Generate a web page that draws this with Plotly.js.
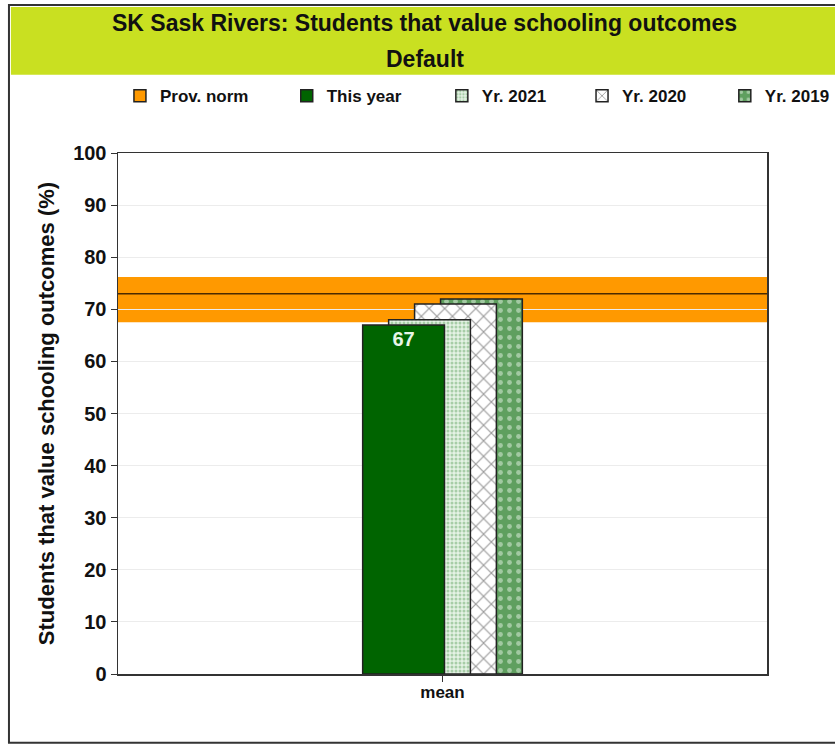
<!DOCTYPE html>
<html>
<head>
<meta charset="utf-8">
<script src="https://cdn.plot.ly/plotly-3.0.1.min.js"></script>
<style>html,body{margin:0;padding:0;background:#fff;}#chart{width:835px;height:745px;}</style>
</head>
<body>
<div id="chart"></div>
<script>
const titleLines = ["SK Sask Rivers: Students that value schooling outcomes", "Default"];
const categories = ["mean"];
const seriesNames = ["This year", "Yr. 2021", "Yr. 2020", "Yr. 2019"];
const thisYear = [67];
const yr2021 = [68];
const yr2020 = [71];
const yr2019 = [72];
const normName = "Prov. norm";
const provNorm = [73];
const provNormLow = [67.5];
const provNormHigh = [76.2];
const yTitle = "Students that value schooling outcomes (%)";
const yTicks = [0,10,20,30,40,50,60,70,80,90,100];

const F = "Liberation Sans, Arial, sans-serif";
const barW = 0.126;
const lineStyle = {color: "#222", width: 1.5};

const traces = [
  {type: "bar", name: seriesNames[3], x: categories, y: yr2019, offset: -0.003, width: barW,
   legend: "legend5",
   marker: {color: "#7dba7d", line: lineStyle,
            pattern: {shape: ".", bgcolor: "#5f9f5f", fgcolor: "#e6f4e6", size: 9, solidity: 0.22, fillmode: "overlay"}}},
  {type: "bar", name: seriesNames[2], x: categories, y: yr2020, offset: -0.043, width: barW,
   legend: "legend4",
   marker: {color: "#ffffff", line: lineStyle,
            pattern: {shape: "x", bgcolor: "#ffffff", fgcolor: "#333333", size: 11, solidity: 0.2, fillmode: "overlay"}}},
  {type: "bar", name: seriesNames[1], x: categories, y: yr2021, offset: -0.083, width: barW,
   legend: "legend3",
   marker: {color: "#d9ecd9", line: lineStyle,
            pattern: {shape: ".", bgcolor: "#e4f2e4", fgcolor: "#6aa86a", size: 4, solidity: 0.45, fillmode: "overlay"}}},
  {type: "bar", name: seriesNames[0], x: categories, y: thisYear, offset: -0.123, width: barW,
   legend: "legend2",
   marker: {color: "#006400", line: lineStyle},
   text: thisYear.map(String), textposition: "inside", insidetextanchor: "end",
   textfont: {family: F, size: 20, color: "#e8f5e8", weight: "bold"}, cliponaxis: false},
  {type: "bar", name: normName, x: categories, y: [null], legend: "legend",
   marker: {color: "#ff9900", line: lineStyle}}
];

const shapes = [
  {type: "rect", xref: "paper", yref: "paper", x0: -0.168, x1: 1.25, y0: -0.132, y1: 1.284,
   line: {color: "#333", width: 2}, fillcolor: "rgba(0,0,0,0)", layer: "below"},
  {type: "rect", xref: "paper", yref: "paper", x0: -0.165, x1: 1.25, y0: 1.150, y1: 1.280,
   line: {width: 0}, fillcolor: "#c9e021", layer: "below"},
  {type: "rect", xref: "paper", yref: "y", x0: 0, x1: 1, y0: provNormLow[0], y1: provNormHigh[0],
   line: {width: 0}, fillcolor: "#ff9900", layer: "below"},
  {type: "line", xref: "paper", yref: "y", x0: 0, x1: 1, y0: provNorm[0], y1: provNorm[0],
   line: {color: "#4a2a00", width: 1.5}, layer: "below"}
];

const annotations = [
  {text: titleLines[0], xref: "paper", yref: "paper", x: 0.473, y: 1.250, showarrow: false,
   xanchor: "center", yanchor: "middle", font: {family: F, size: 23, color: "#111", weight: "bold"}},
  {text: titleLines[1], xref: "paper", yref: "paper", x: 0.473, y: 1.181, showarrow: false,
   xanchor: "center", yanchor: "middle", font: {family: F, size: 23, color: "#111", weight: "bold"}}
];

function mkLegend(xp) {
  return {orientation: "h", x: xp, xanchor: "left", y: 1.109, yanchor: "middle",
          font: {family: F, size: 17, color: "#111", weight: "bold"}, bgcolor: "rgba(0,0,0,0)",
          borderwidth: 0};
}

const layout = {
  width: 835, height: 745,
  margin: {l: 118, r: 68, t: 153, b: 71, autoexpand: false},
  paper_bgcolor: "#ffffff", plot_bgcolor: "#ffffff",
  barmode: "overlay",
  showlegend: true,
  legend: mkLegend(0.003),
  legend2: mkLegend(0.260),
  legend3: mkLegend(0.499),
  legend4: mkLegend(0.715),
  legend5: mkLegend(0.935),
  xaxis: {type: "category", range: [-0.5, 0.5], showline: true, linecolor: "#333", linewidth: 1.5,
          mirror: true, ticks: "outside", ticklen: 6, tickcolor: "#333", showgrid: false,
          ticklabelstandoff: -4,
          tickfont: {family: F, size: 17, color: "#111", weight: "bold"}, fixedrange: true},
  yaxis: {range: [0, 100], tickvals: yTicks, showline: true, linecolor: "#333", linewidth: 1.5,
          mirror: true, ticks: "outside", ticklen: 6, tickcolor: "#333",
          showgrid: true, gridcolor: "#ececec", gridwidth: 1, zeroline: false,
          tickfont: {family: F, size: 20, color: "#111", weight: "bold"},
          title: {text: yTitle, standoff: 12, font: {family: F, size: 22, color: "#111", weight: "bold"}}},
  shapes: shapes,
  annotations: annotations
};

Plotly.newPlot("chart", traces, layout, {displayModeBar: false, staticPlot: true});
</script>
</body>
</html>
